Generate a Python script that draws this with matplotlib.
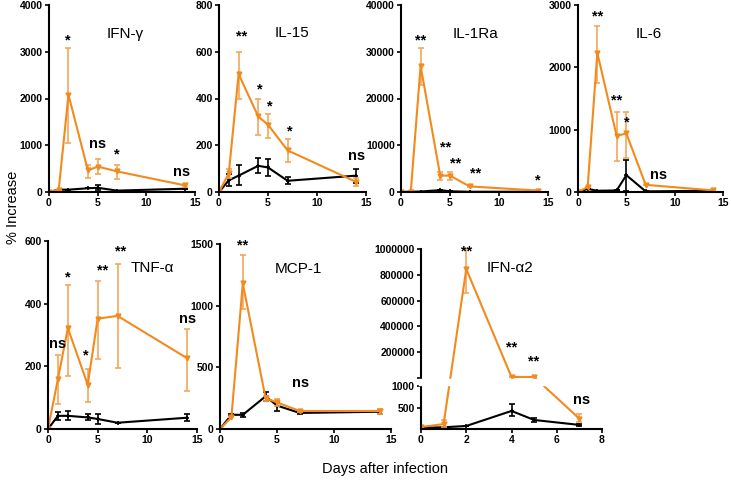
import numpy as np
import matplotlib.pyplot as plt

plt.rcParams['font.family'] = ['Liberation Sans', 'DejaVu Sans']

ORANGE = '#F28A1E'
ORANGE_ERR = '#F5A55A'

days = [0, 1, 2, 4, 5, 7, 14]
days_a2 = [0, 1, 2, 4, 5, 7]

# each panel: orange mean, orange lo, orange hi, black mean, black lo, black hi
ifng_o = [0, 50, 2080, 460, 545, 440, 140]
ifng_o_lo = [0, 50, 1050, 300, 380, 280, 100]
ifng_o_hi = [0, 50, 3080, 580, 700, 570, 180]
ifng_b = [0, 50, 50, 80, 90, 30, 70]
ifng_b_lo = [0, 50, 50, 80, 40, 30, 70]
ifng_b_hi = [0, 50, 50, 80, 140, 30, 70]

il15_o = [0, 80, 505, 323, 288, 178, 43]
il15_o_lo = [0, 60, 400, 245, 230, 130, 25]
il15_o_hi = [0, 100, 600, 400, 335, 225, 60]
il15_b = [0, 50, 70, 112, 105, 48, 70]
il15_b_lo = [0, 25, 30, 80, 70, 35, 40]
il15_b_hi = [0, 75, 115, 145, 140, 65, 100]

il1ra_o = [0, 100, 27000, 3500, 3500, 1200, 300]
il1ra_o_lo = [0, 100, 22800, 2600, 2600, 1100, 200]
il1ra_o_hi = [0, 100, 30800, 4300, 4300, 1300, 400]
il1ra_b = [0, 50, 100, 400, 150, 50, 50]
il1ra_b_lo = il1ra_b
il1ra_b_hi = il1ra_b

il6_o = [0, 80, 2230, 900, 940, 115, 25]
il6_o_lo = [0, 80, 1750, 490, 550, 115, 25]
il6_o_hi = [0, 80, 2660, 1280, 1290, 115, 25]
il6_b = [0, 50, 20, 25, 270, 10, 20]
il6_b_lo = [0, 50, 20, 25, 20, 10, 20]
il6_b_hi = [0, 50, 20, 25, 520, 10, 20]

tnf_o = [0, 160, 322, 141, 352, 361, 226]
tnf_o_lo = [0, 80, 170, 85, 225, 195, 122]
tnf_o_hi = [0, 235, 460, 190, 472, 527, 318]
tnf_b = [0, 42, 42, 37, 32, 20, 36]
tnf_b_lo = [0, 30, 28, 28, 17, 20, 26]
tnf_b_hi = [0, 55, 58, 47, 47, 20, 48]

mcp_o = [0, 95, 1180, 250, 215, 146, 146]
mcp_o_lo = [0, 95, 970, 230, 185, 140, 125]
mcp_o_hi = [0, 95, 1410, 270, 245, 152, 165]
mcp_b = [0, 115, 115, 265, 190, 130, 140]
mcp_b_lo = [0, 105, 100, 225, 150, 120, 125]
mcp_b_hi = [0, 125, 130, 300, 215, 140, 155]

a2_o = [45, 115, 845000, 9000, 9000, 240]
a2_o_lo = [45, 50, 660000, 9000, 9000, 160]
a2_o_hi = [45, 200, 1000000, 9000, 9000, 340]
a2_b = [30, 40, 70, 420, 210, 95]
a2_b_lo = [30, 40, 70, 300, 160, 80]
a2_b_hi = [30, 40, 70, 590, 260, 110]

titles = ['IFN-γ', 'IL-15', 'IL-1Ra', 'IL-6', 'TNF-α', 'MCP-1', 'IFN-α2']

fig = plt.figure(figsize=(7.31, 4.84), dpi=100)


def px_axes(x0, x1, ytop, ybot):
    return fig.add_axes([x0 / 731, (484 - ybot) / 484, (x1 - x0) / 731, (ybot - ytop) / 484])


def style(ax):
    for s in ['top', 'right']:
        ax.spines[s].set_visible(False)
    for s in ['left', 'bottom']:
        ax.spines[s].set_linewidth(1.5)
    ax.tick_params(length=3, width=1.2, labelsize=7.5, pad=1.5)
    for lab in ax.get_xticklabels() + ax.get_yticklabels():
        lab.set_fontweight('bold')


def draw(ax, x, o, olo, ohi, b, blo, bhi):
    o, olo, ohi = np.array(o), np.array(olo), np.array(ohi)
    b, blo, bhi = np.array(b), np.array(blo), np.array(bhi)
    ax.errorbar(x, b, yerr=[b - blo, bhi - b], color='black', lw=1.5,
                marker='+', ms=3, mew=1.2, capsize=2.5, elinewidth=1.2, capthick=1.2, zorder=2)
    ax.errorbar(x, o, yerr=[o - olo, ohi - o], color=ORANGE, ecolor=ORANGE_ERR, lw=1.5,
                marker='v', ms=3.5, capsize=2.5, elinewidth=1.2, capthick=1.2, zorder=2.2)


def stars(ax, items):
    for x, y, s in items:
        ax.text(x, y, s, ha='center', va='center', fontsize=10.5, fontweight='bold')


# top row
ax1 = px_axes(49, 195, 5, 192)
draw(ax1, days, ifng_o, ifng_o_lo, ifng_o_hi, ifng_b, ifng_b_lo, ifng_b_hi)
ax1.set_ylim(0, 4000)
ax1.set_yticks([0, 1000, 2000, 3000, 4000])
ax1.text(7.8, 3380, titles[0], ha='center', va='center', fontsize=11)
stars(ax1, [(1.9, 3250, '*'), (5, 1030, 'ns'), (7, 810, '*'), (13.6, 420, 'ns')])

ax2 = px_axes(219, 366, 5, 192)
draw(ax2, days, il15_o, il15_o_lo, il15_o_hi, il15_b, il15_b_lo, il15_b_hi)
ax2.set_ylim(0, 800)
ax2.set_yticks([0, 200, 400, 600, 800])
ax2.text(7.5, 680, titles[1], ha='center', va='center', fontsize=11)
stars(ax2, [(2.3, 665, '**'), (4.2, 440, '*'), (5.2, 365, '*'), (7.2, 260, '*'), (14, 155, 'ns')])

ax3 = px_axes(401, 548, 5, 192)
draw(ax3, days, il1ra_o, il1ra_o_lo, il1ra_o_hi, il1ra_b, il1ra_b_lo, il1ra_b_hi)
ax3.set_ylim(0, 40000)
ax3.set_yticks([0, 10000, 20000, 30000, 40000])
ax3.text(7.6, 33900, titles[2], ha='center', va='center', fontsize=11)
stars(ax3, [(2, 32500, '**'), (4.6, 9500, '**'), (5.6, 6100, '**'), (7.6, 4000, '**'), (14, 2400, '*')])

ax4 = px_axes(578, 723, 5, 192)
draw(ax4, days, il6_o, il6_o_lo, il6_o_hi, il6_b, il6_b_lo, il6_b_hi)
ax4.set_ylim(0, 3000)
ax4.set_yticks([0, 1000, 2000, 3000])
ax4.text(7.3, 2530, titles[3], ha='center', va='center', fontsize=11)
stars(ax4, [(2, 2820, '**'), (4, 1470, '**'), (5, 1120, '*'), (8.3, 280, 'ns')])

for ax in [ax1, ax2, ax3, ax4]:
    ax.set_xlim(0, 15)
    ax.set_xticks([0, 5, 10, 15])
    style(ax)

# bottom row
ax5 = px_axes(48, 197, 241, 429)
draw(ax5, days, tnf_o, tnf_o_lo, tnf_o_hi, tnf_b, tnf_b_lo, tnf_b_hi)
ax5.set_ylim(0, 600)
ax5.set_yticks([0, 200, 400, 600])
ax5.text(10.5, 515, titles[4], ha='center', va='center', fontsize=11)
stars(ax5, [(1, 270, 'ns'), (2, 485, '*'), (3.8, 235, '*'), (5.5, 505, '**'), (7.3, 565, '**'), (14, 350, 'ns')])

ax6 = px_axes(220, 391, 244, 429)
draw(ax6, days, mcp_o, mcp_o_lo, mcp_o_hi, mcp_b, mcp_b_lo, mcp_b_hi)
ax6.set_ylim(0, 1500)
ax6.set_yticks([0, 500, 1000, 1500])
ax6.text(6.9, 1300, titles[5], ha='center', va='center', fontsize=11)
stars(ax6, [(2, 1490, '**'), (7.1, 370, 'ns')])

for ax in [ax5, ax6]:
    ax.set_xlim(0, 15)
    ax.set_xticks([0, 5, 10, 15])
    style(ax)

# broken axis for IFN-a2 via a piecewise scale
bp_v = np.array([-1e7, 0, 1000, 1001, 1e6, 1e8])
bp_d = np.array([-1e7 * 0.043, 0, 43, 51, 180, 180 + (1e8 - 1e6) * 129 / 998999])


def fwd(v):
    return np.interp(v, bp_v, bp_d)


def inv(d):
    return np.interp(d, bp_d, bp_v)


ax7 = px_axes(421, 602, 249, 429)
ax7.set_yscale('function', functions=(fwd, inv))
draw(ax7, days_a2, a2_o, a2_o_lo, a2_o_hi, a2_b, a2_b_lo, a2_b_hi)
ax7.set_ylim(0, 1e6)
ax7.set_xlim(0, 8)
ax7.set_xticks([0, 2, 4, 6, 8])
ax7.set_yticks([500, 1000, 1001, 200000, 400000, 600000, 800000, 1000000])
ax7.set_yticklabels(['500', '1000', '', '200000', '400000', '600000', '800000', '1000000'])
ax7.axhspan(1000.15, 1000.85, xmin=-0.012, xmax=1, color='white', zorder=3, clip_on=False)
ax7.text(3.95, 853000, titles[6], ha='center', va='center', fontsize=11)
stars(ax7, [(2, 980000, '**'), (4, 240000, '**'), (5, 130000, '**'), (7.1, 680, 'ns')])
style(ax7)

fig.text(0.018, 0.572, '% Increase', rotation=90, ha='center', va='center', fontsize=10.5)
fig.text(0.527, 0.03, 'Days after infection', ha='center', va='center', fontsize=10.5)

fig.savefig('out.png', dpi=100)
